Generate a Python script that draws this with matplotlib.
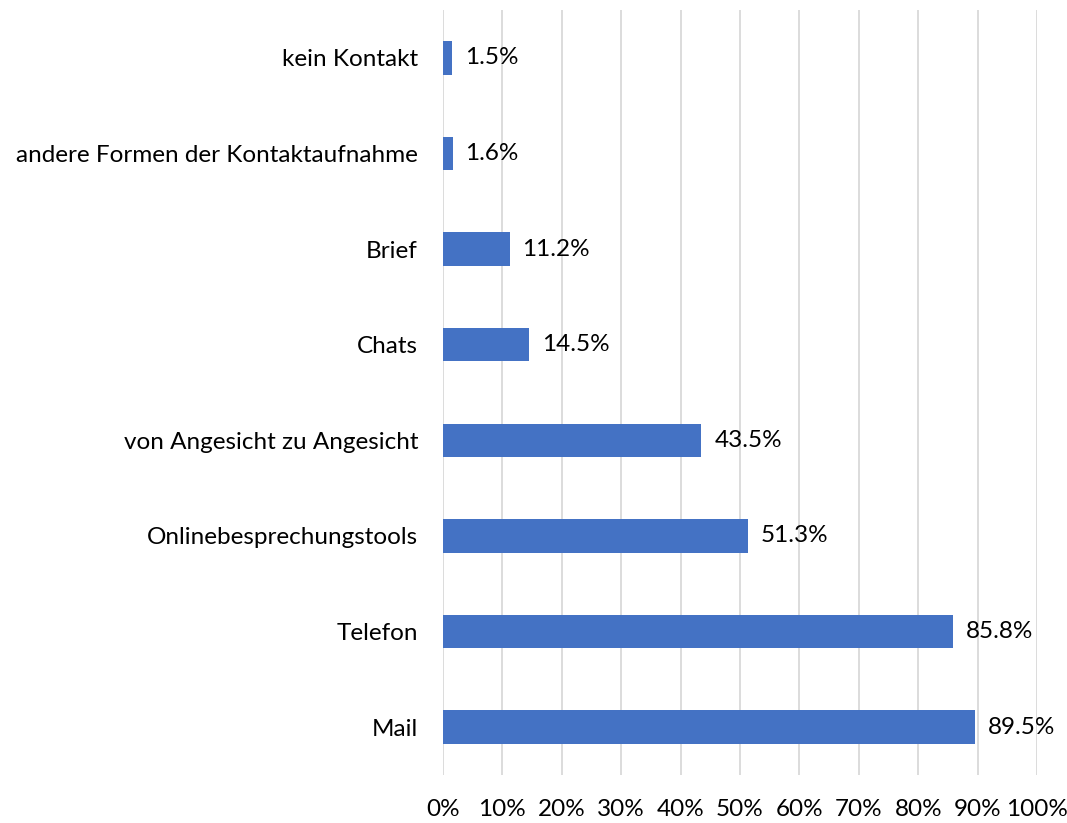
import matplotlib
matplotlib.use("Agg")
import matplotlib.pyplot as plt
from matplotlib.ticker import FuncFormatter

categories = ["Mail", "Telefon", "Onlinebesprechungstools", "von Angesicht zu Angesicht",
              "Chats", "Brief", "andere Formen der Kontaktaufnahme", "kein Kontakt"]
values = [89.5, 85.8, 51.3, 43.5, 14.5, 11.2, 1.6, 1.5]
xticks = list(range(0, 101, 10))

plt.rcParams['font.family'] = ['Lato', 'DejaVu Sans']
fs = 17.5

fig = plt.figure(figsize=(10.67, 8.23), dpi=100)
ax = fig.add_axes([443/1067, 1 - 775/823, (1037 - 443)/1067, (775 - 10)/823])

ypos = list(range(len(categories)))
ax.barh(ypos, values, height=0.35, color="#4472C4", zorder=3)
for y, v in zip(ypos, values):
    ax.annotate(f"{v:.1f}%", (v, y), xytext=(13, 0), textcoords="offset pixels",
                va="center", ha="left", fontsize=fs, color="#000000")

ax.set_xlim(0, 100)
ax.set_ylim(-0.5, len(categories) - 0.5)
ax.set_xticks(xticks)
ax.xaxis.set_major_formatter(FuncFormatter(lambda x, p: f"{int(x)}%"))
ax.set_yticks(ypos)
ax.set_yticklabels(categories)
ax.grid(axis="x", color="#d9d9d9", linewidth=1.3, zorder=0)
for s in ax.spines.values():
    s.set_visible(False)
ax.tick_params(axis="both", length=0, labelsize=fs, colors="#000000")
ax.tick_params(axis="y", pad=18)
ax.tick_params(axis="x", pad=17)

fig.savefig("out.png", dpi=100)
